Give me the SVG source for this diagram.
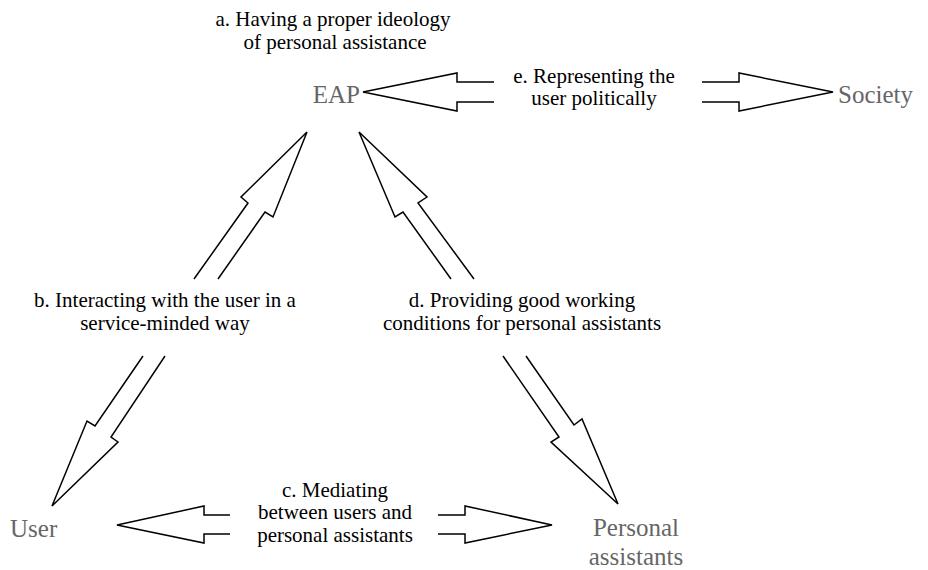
<svg xmlns="http://www.w3.org/2000/svg" width="928" height="570" viewBox="0 0 928 570">
<style>
.t{font-family:'Liberation Serif',serif;font-size:21px;fill:#000;text-anchor:middle}
.n{font-family:'Liberation Serif',serif;font-size:25px;fill:#666}
.a{fill:none;stroke:#000;stroke-width:1.5;stroke-linejoin:miter}
</style>
<rect width="928" height="570" fill="#fff"/>
<g id="connectors">
<polyline class="a" points="494,82 457,82 457,73 363,92 457,111 457,102 494,102"/>
<polyline class="a" points="702,82 739,82 739,73 833,92 739,111 739,102 702,102"/>
<polyline class="a" points="194,279 248,203 241,197 307,132 273,217 265,212 218,279"/>
<polyline class="a" points="474,279 418,203 427,197 359,132 395,217 403,212 451,279"/>
<polyline class="a" points="143,356 95,426 87,421 52,506 118,442 111,437 165,356"/>
<polyline class="a" points="503,356 559,437 551,442 618,504 582,419 574,425 526,356"/>
<polyline class="a" points="230,515 204,515 204,506 117,525 204,543 204,534 230,534"/>
<polyline class="a" points="438,515 465,515 465,506 552,525 465,543 465,534 438,534"/>
</g>
<g id="label-a"><text class="t" x="333" y="26">a. Having a proper ideology</text><text class="t" x="335" y="49">of personal assistance</text></g>
<g id="label-e"><text class="t" x="594" y="83">e. Representing the</text><text class="t" x="594" y="105">user politically</text></g>
<g id="label-b"><text class="t" x="165" y="307">b. Interacting with the user in a</text><text class="t" x="165" y="330">service-minded way</text></g>
<g id="label-d"><text class="t" x="522" y="307">d. Providing good working</text><text class="t" x="522" y="330">conditions for personal assistants</text></g>
<g id="label-c"><text class="t" x="335" y="497">c. Mediating</text><text class="t" x="335" y="519">between users and</text><text class="t" x="335" y="542">personal assistants</text></g>
<g id="node-eap"><text class="n" x="360" y="103" text-anchor="end">EAP</text></g>
<g id="node-society"><text class="n" x="838" y="103">Society</text></g>
<g id="node-user"><text class="n" x="10" y="537">User</text></g>
<g id="node-pa"><text class="n" x="636" y="536" text-anchor="middle">Personal</text><text class="n" x="636" y="565" text-anchor="middle">assistants</text></g>
</svg>
